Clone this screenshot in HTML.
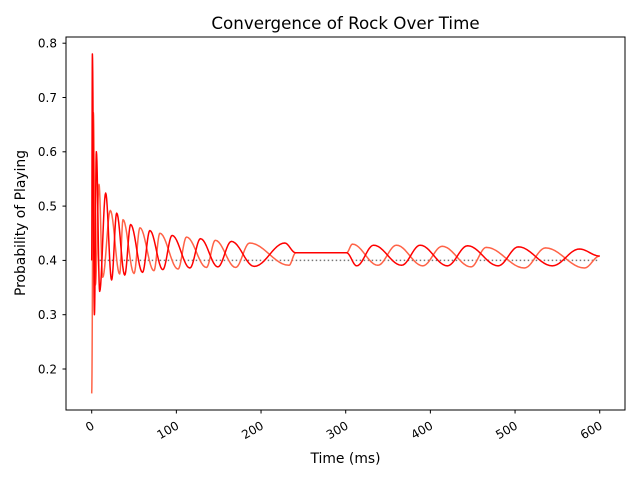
<!DOCTYPE html>
<html><head><meta charset="utf-8"><style>
body{margin:0;background:#fff;}
svg{display:block;font-family:"DejaVu Sans","Liberation Sans",sans-serif;}
</style></head><body>
<svg id="chart" width="640" height="480" viewBox="0 0 640 480">
<rect width="640" height="480" fill="#fff"/>
<text x="345.5" y="29" text-anchor="middle" font-size="16.7">Convergence of Rock Over Time</text>
<g id="plot"></g>
<text x="345.5" y="463" text-anchor="middle" font-size="13.9">Time (ms)</text>
<text transform="translate(25,223) rotate(-90)" text-anchor="middle" font-size="13.9">Probability of Playing</text>
</svg>
<script>
const xTicks=[0,100,200,300,400,500,600];
const yTicks=[0.2,0.3,0.4,0.5,0.6,0.7,0.8];
const equilibrium=0.4;
const redT=[0,0.8,3.2,5.5,9.4,16.5,23.5,29.5,39,46,60,68.7,84,95,116,128.5,149,165,192,228,241,301,313,333,366,388,420,444,480,504,544,576,600];
const redV=[0.40,0.78,0.30,0.60,0.343,0.524,0.364,0.487,0.373,0.466,0.378,0.455,0.383,0.446,0.386,0.44,0.388,0.435,0.389,0.432,0.414,0.414,0.39,0.428,0.391,0.428,0.39,0.427,0.39,0.425,0.39,0.421,0.408];
const tomT=[0,2,4.4,8.6,13,22,33,37,50,57,73.5,80.5,102,112,135.5,146,170,186.5,233,241,301,308,338,360,391,414,448,466,511,536,582,600];
const tomV=[0.155,0.672,0.355,0.54,0.369,0.492,0.375,0.475,0.376,0.46,0.381,0.45,0.384,0.443,0.387,0.437,0.387,0.432,0.391,0.414,0.414,0.43,0.391,0.428,0.39,0.426,0.388,0.424,0.386,0.423,0.386,0.408];

const L=66,R=625,T=37,B=410;
const X=t=>91.7+(t-0)*0.8467;
const Y=v=>369-(v-0.2)*543;
const NS="http://www.w3.org/2000/svg";
const g=document.getElementById('plot');
function mk(tag,attrs,parent){const e=document.createElementNS(NS,tag);for(const k in attrs)e.setAttribute(k,attrs[k]);(parent||g).appendChild(e);return e;}

function curve(ts,vs){
  let d='M'+X(ts[0]).toFixed(2)+','+Y(vs[0]).toFixed(2);
  for(let i=0;i<ts.length-1;i++){
    const flat=Math.abs(vs[i]-vs[i+1])<1e-9;
    const n=flat?1:12;
    for(let k=1;k<=n;k++){
      const f=k/n, s=(1-Math.cos(Math.PI*f))/2;
      const t=ts[i]+(ts[i+1]-ts[i])*f, v=vs[i]+(vs[i+1]-vs[i])*s;
      d+=' L'+X(t).toFixed(2)+','+Y(v).toFixed(2);
    }
  }
  return d;
}

const eq=mk('line',{x1:X(0),x2:X(600),y1:Y(equilibrium),y2:Y(equilibrium),stroke:'#555',"stroke-width":1.5,"stroke-dasharray":"1.5,2.5",opacity:0.8});


const p2=mk('path',{d:curve(tomT,tomV),fill:'none',stroke:'#ff6347',"stroke-width":1.5,"stroke-linejoin":"round"});


const p1=mk('path',{d:curve(redT,redV),fill:'none',stroke:'#ff0000',"stroke-width":1.5,"stroke-linejoin":"round"});



const frame=mk('rect',{x:L,y:T,width:R-L,height:B-T,fill:'none',stroke:'#000',"stroke-width":1});



xTicks.forEach(t=>{
  const x=X(t);
  const tk=mk('line',{x1:x,x2:x,y1:B,y2:B+3.5,stroke:'#000'});
  
  
  const lb=mk('text',{transform:`translate(${x+3.5},${B+18}) rotate(-30)`,"text-anchor":"end","font-size":12});
  lb.textContent=t;
  
  
});
yTicks.forEach(v=>{
  const y=Y(v);
  const tk=mk('line',{x1:L-3.5,x2:L,y1:y,y2:y,stroke:'#000'});
  
  
  const lb=mk('text',{x:L-9,y:y+4.3,"text-anchor":"end","font-size":12});
  lb.textContent=v.toFixed(1);
  
  
});
</script>
</body></html>
